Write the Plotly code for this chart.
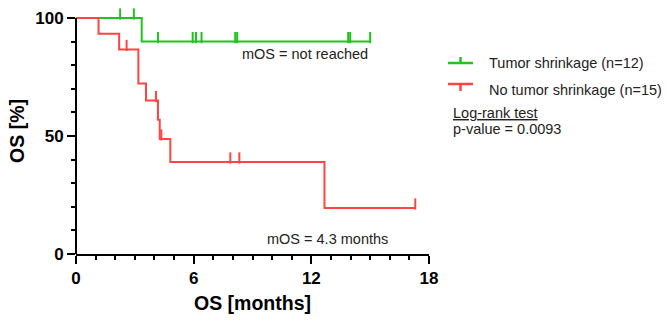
import plotly.graph_objects as go

# Kaplan-Meier step curves (months, % surviving)
shrink_t = [0, 3.35, 15.0]
shrink_s = [100, 90, 90]
shrink_cens_t = [2.25, 2.95, 4.18, 5.95, 6.12, 6.4, 8.12, 8.22, 13.88, 13.98, 15.0]
shrink_cens_s = [100, 100, 90, 90, 90, 90, 90, 90, 90, 90, 90]

noshrink_t = [0, 1.15, 2.2, 3.18, 3.57, 4.18, 4.27, 4.81, 12.67, 17.3]
noshrink_s = [100, 93.3, 86.7, 72.2, 65.0, 56.9, 48.75, 39.0, 19.5, 19.5]
noshrink_cens_t = [2.58, 4.08, 4.35, 7.87, 8.33, 17.3]
noshrink_cens_s = [86.7, 65.0, 48.75, 39.0, 39.0, 19.5]

x_ticks = [0, 6, 12, 18]
y_ticks = [0, 50, 100]

GREEN = "#1fc41f"
RED = "#ff4444"
FONT = "Arial, Liberation Sans, sans-serif"
TXT = "#222"

W, H = 666, 320
L, R, T, B = 76, 237, 8, 66
pw, ph = W - L - R, H - T - B
PX_PER_PCT = 2.36
Y_TOP = ph / PX_PER_PCT  # a little headroom above 100 % for the censor ticks

# censor ticks stand on the curve: centre each tick half its height above
TICK_PX = 8
lift = TICK_PX / 2 / PX_PER_PCT

fig = go.Figure()


def add_group(t, s, ct, cs, color):
    fig.add_trace(go.Scatter(x=t, y=s, mode="lines", line=dict(color=color, width=2, shape="hv"),
                             showlegend=False, cliponaxis=False))
    fig.add_trace(go.Scatter(x=ct, y=[v + lift for v in cs], mode="markers",
                             marker=dict(symbol="line-ns", size=TICK_PX,
                                         line=dict(color=color, width=2)),
                             showlegend=False, cliponaxis=False))


add_group(shrink_t, shrink_s, shrink_cens_t, shrink_cens_s, GREEN)
add_group(noshrink_t, noshrink_s, noshrink_cens_t, noshrink_cens_s, RED)

axis_common = dict(
    showgrid=False, zeroline=False, linecolor="black", linewidth=2,
    ticks="outside", ticklen=8, tickwidth=2, tickcolor="black",
    tickfont=dict(family=FONT, size=17, color="black", weight="bold"),
    title_font=dict(family=FONT, size=19.5, color="black", weight="bold"),
    minor=dict(ticks="outside", ticklen=4, tickwidth=2, tickcolor="black"),
)

fig.update_xaxes(range=[0, 18], tickvals=x_ticks, ticktext=[str(v) for v in x_ticks],
                 minor_dtick=1, minor_tick0=0, showline=True,
                 title_text="OS [months]", title_standoff=9, **axis_common)
fig.update_yaxes(range=[0, Y_TOP], tickvals=y_ticks, ticktext=[str(v) for v in y_ticks],
                 minor_dtick=10, minor_tick0=0, showline=False,
                 title_text="OS [%]", title_standoff=5, **axis_common)

# y axis line stops at 100 %
fig.add_shape(type="line", xref="paper", yref="y", x0=0, x1=0, y0=0, y1=100,
              line=dict(color="black", width=2), layer="above")

# median OS labels
fig.add_annotation(x=15.0, y=90, xref="x", yref="y", text="mOS = not reached", showarrow=False,
                   xanchor="right", yanchor="top", yshift=-2,
                   font=dict(family=FONT, size=14.5, color=TXT))
fig.add_annotation(x=16.0, y=6.3, xref="x", yref="y", text="mOS = 4.3 months", showarrow=False,
                   xanchor="right", yanchor="middle",
                   font=dict(family=FONT, size=14.5, color=TXT))


def px(xp):
    return (xp - L) / pw


def py(yp):
    return 1 - (yp - T) / ph


# legend drawn in paper coordinates
legend_rows = [("Tumor shrinkage (n=12)", GREEN, 63, 63, -6),
               ("No tumor shrinkage (n=15)", RED, 90, 84, 7)]
for label, color, ytext, yline, stub in legend_rows:
    fig.add_shape(type="line", xref="paper", yref="paper", x0=px(448), x1=px(473),
                  y0=py(yline), y1=py(yline), line=dict(color=color, width=2.5))
    fig.add_shape(type="line", xref="paper", yref="paper", x0=px(460.5), x1=px(460.5),
                  y0=py(yline), y1=py(yline + stub), line=dict(color=color, width=2.5))
    fig.add_annotation(x=px(487), y=py(ytext), xref="paper", yref="paper", text=label,
                       showarrow=False, xanchor="left", yanchor="middle",
                       font=dict(family=FONT, size=14.5, color=TXT))

fig.add_annotation(x=px(451), y=py(113), xref="paper", yref="paper", text="<u>Log-rank test</u>",
                   showarrow=False, xanchor="left", yanchor="middle",
                   font=dict(family=FONT, size=14.5, color=TXT))
fig.add_annotation(x=px(451), y=py(129), xref="paper", yref="paper", text="p-value = 0.0093",
                   showarrow=False, xanchor="left", yanchor="middle",
                   font=dict(family=FONT, size=14.5, color=TXT))

fig.update_layout(
    width=W, height=H, margin=dict(l=L, r=R, t=T, b=B, autoexpand=False),
    paper_bgcolor="white", plot_bgcolor="white", showlegend=False,
)

fig.write_html("out.html")
